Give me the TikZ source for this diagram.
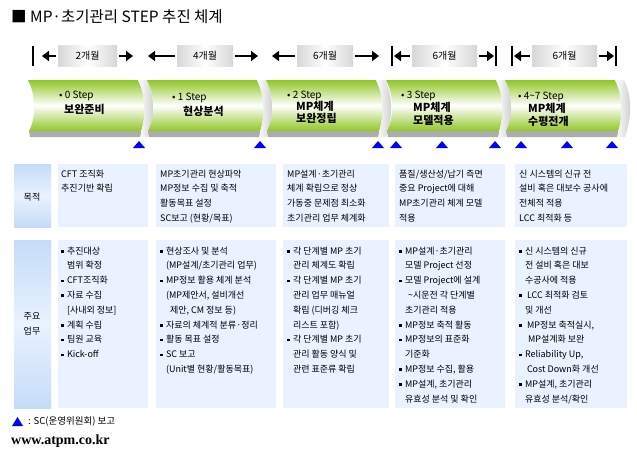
\documentclass[tikz,border=0pt]{standalone}
\usepackage{fontspec}
\setmainfont{Noto Sans CJK KR}
\newfontfamily\webfont{Liberation Serif}
\usetikzlibrary{arrows.meta}
\usetikzlibrary{positioning}
\usetikzlibrary{math}
\tikzset{>={Triangle[length=7pt,width=10pt]}}
\definecolor{stepgreen}{RGB}{146,198,38}
\definecolor{cellblue}{RGB}{233,242,254}
\definecolor{headblue}{RGB}{197,220,248}
\definecolor{monthgray}{RGB}{215,215,215}
\tikzset{
    cell/.style={fill=cellblue},
    txt/.style={anchor=north west, align=left, inner sep=0pt, font=\fontsize{9}{14.8}\selectfont},
    monthbox/.style={shade, left color=monthgray, right color=monthgray, middle color=white, minimum height=21pt, inner sep=0pt, font=\fontsize{10}{11}\selectfont},
    steptxt/.style={anchor=north west, align=left, inner sep=0pt, font=\fontsize{10}{14}\selectfont},
    period/.style={->, line width=2.6pt, shorten <=2pt},
}
\newcommand{\bul}{\rule[1.6pt]{2.6pt}{2.6pt}\hspace{3.2pt}}
\newcommand{\ind}{\hspace*{5.8pt}}
\newcommand{\lbl}[1]{{\fontsize{11}{12}\selectfont\textbf{#1}}}

\begin{document}
\begin{tikzpicture}[x=1pt, y=-1pt] % MP step chart
	\useasboundingbox (0,0) rectangle (637,460);
	\tikzmath{\ct = 80; \cb = 131; \cs = 137;}
	\node[anchor=west, inner sep=0pt, font=\fontsize{15.5}{17}\selectfont] (title) at (11,17) {■ MP·초기관리 STEP 추진 체계};
	% periods
	\foreach \a/\b/\c/\d/\m [count=\i] in {42/58/117/133/2, 148/177/233/258/4, 272/297/353/379/6, 394/412/477/494/6, 514/532/597/614/6} {
		\node[monthbox, minimum width=\c-\b] (month\i) at ({(\b+\c)/2},56) {\m{}개월};
		\draw[period] (month\i.west) -- (\a,56);
		\draw[period] (month\i.east) -- (\d,56);
	}
	\foreach \x in {33,392,496,512,616}
	\draw[line width=2pt] (\x,46) -- (\x,66);
	% chevrons
	\foreach \s in {30,149,268,388,507} {
		\shade[top color=stepgreen, bottom color=stepgreen, middle color=white] (\s-2,\ct) .. controls (\s+6,95) and (\s+6,118) .. (\s-1,\cb) -- (\s+111,\cb) .. controls (\s+116,118) and (\s+116,95) .. (\s+108,\ct) -- cycle;
		\fill[gray!65] (\s-1,\cb) -- (\s+111,\cb) -- (\s+111,\cs) -- (\s,\cs) -- cycle;
		\shade[left color=white, right color=gray!40] (\s+108,\ct) -- (\s+117,\ct) .. controls (\s+125,95) and (\s+125,118) .. (\s+118,\cs) -- (\s+110,\cs) .. controls (\s+116,118) and (\s+116,95) .. (\s+108,\ct) -- cycle;
	}
	\node[steptxt, font=\fontsize{10}{15}\selectfont] (step0) at (59,91) {• 0 Step\\\hspace*{5pt}\lbl{보완준비}};
	\node[steptxt, font=\fontsize{10}{15}\selectfont] (step1) at (172,93) {• 1 Step\\\hspace*{11pt}\lbl{현상분석}};
	\node[steptxt, font=\fontsize{10}{12}\selectfont] (step2) at (287,91) {• 2 Step\\\hspace*{9pt}\lbl{MP체계}\\\hspace*{9pt}\lbl{보완정립}};
	\node[steptxt, font=\fontsize{10}{13}\selectfont] (step3) at (401,91) {• 3 Step\\\hspace*{12pt}\lbl{MP체계}\\\hspace*{12pt}\lbl{모델적용}};
	\node[steptxt, font=\fontsize{10}{13}\selectfont] (step4) at (518,92) {• 4\textasciitilde7 Step\\\hspace*{10pt}\lbl{MP체계}\\\hspace*{10pt}\lbl{수평전개}};
	\foreach \x in {139,260,378,396,442,495,521,567,612}
	\fill[blue] (\x-6,148) -- (\x+6,148) -- (\x,141) -- cycle;
	% table
	\shade[top color=headblue, bottom color=headblue, middle color=cellblue] (14,164) rectangle (51,227);
	\shade[top color=headblue, bottom color=headblue, middle color=cellblue] (14,240) rectangle (51,408);
	\node[font=\fontsize{9}{10}\selectfont] (goallbl) at (32,197) {목적};
	\node[align=center, font=\fontsize{9}{15}\selectfont] (tasklbl) at (32,324) {주요\\업무};
	\foreach \x/\w in {58/90, 156/120, 283/106, 395/110, 515/112} {
		\fill[cell] (\x,164) rectangle +(\w,63);
		\fill[cell] (\x,240) rectangle +(\w,168);
	}
	\node[txt] (goal1) at (61,169.5) {CFT 조직화\\추진기반 확립};
	\node[txt] (goal2) at (160,169.5) {MP초기관리 현상파악\\MP정보 수집 및 축적\\활동목표 설정\\SC보고 (현황/목표)};
	\node[txt] (goal3) at (287,169.5) {MP설계·초기관리\\체계 확립으로 정상\\가동중 문제점 최소화\\초기관리 업무 체계화};
	\node[txt] (goal4) at (399,169.5) {품질/생산성/납기 측면\\중요 Project에 대해\\MP초기관리 체계 모델\\적용};
	\node[txt] (goal5) at (519,169.5) {신 시스템의 신규 전\\설비 혹은 대보수 공사에\\전체적 적용\\LCC 최적화 등};
	\node[txt] (task1) at (61,246.5) {\bul 추진대상\\\ind 범위 확정\\\bul CFT조직화\\\bul 자료 수집\\\ind [사내외 정보]\\\bul 계획 수립\\\bul 팀원 교육\\\bul Kick-off};
	\node[txt] (task2) at (160,246.5) {\bul 현상조사 및 분석\\\ind (MP설계/초기관리 업무)\\\bul MP정보 활용 체계 분석\\\ind (MP제안서, 설비개선\\\ind\hspace*{4pt}제안, CM 정보 등)\\\bul 자료의 체계적 분류·정리\\\bul 활동 목표 설정\\\bul SC 보고\\\ind (Unit별 현황/활동목표)};
	\node[txt] (task3) at (287,246.5) {\bul 각 단계별 MP 초기\\\ind 관리 체계도 확립\\\bul 각 단계별 MP 초기\\\ind 관리 업무 매뉴얼\\\ind 확립 (디버깅 체크\\\ind 리스트 포함)\\\bul 각 단계별 MP 초기\\\ind 관리 활동 양식 및\\\ind 관련 표준류 확립};
	\node[txt] (task4) at (399,246.5) {\bul MP설계·초기관리\\\ind 모델 Project 선정\\\bul 모델 Project에 설계\\\ind\hspace*{3pt}\textasciitilde 시운전 각 단계별\\\ind 초기관리 적용\\\bul MP정보 축적 활동\\\bul MP정보의 표준화\\\ind 기준화\\\bul MP정보 수집, 활용\\\bul MP설계, 초기관리\\\ind 유효성 분석 및 확인};
	\node[txt] (task5) at (519,246.5) {\bul 신 시스템의 신규\\\ind 전 설비 혹은 대보\\\ind 수공사에 적용\\\bul\hspace*{2pt}LCC 최적화 검토\\\ind 및 개선\\\bul\hspace*{2pt}MP정보 축적실시,\\\ind\hspace*{3pt}MP설계화 보완\\\bul Reliability Up,\\\ind\hspace*{2pt}Cost Down화 개선\\\bul MP설계, 초기관리\\\ind 유효성 분석/확인};
	% legend
	\fill[blue] (12,426) -- (23,426) -- (17.5,417) -- cycle;
	\node[anchor=west, inner sep=0pt, font=\fontsize{9.5}{10}\selectfont] (legend) at (28,421) {: SC(운영위원회) 보고};
	\node[anchor=west, inner sep=0pt, font=\webfont\bfseries\fontsize{14}{15}\selectfont] (web) at (11,441) {www.atpm.co.kr};
\end{tikzpicture}
\end{document}
